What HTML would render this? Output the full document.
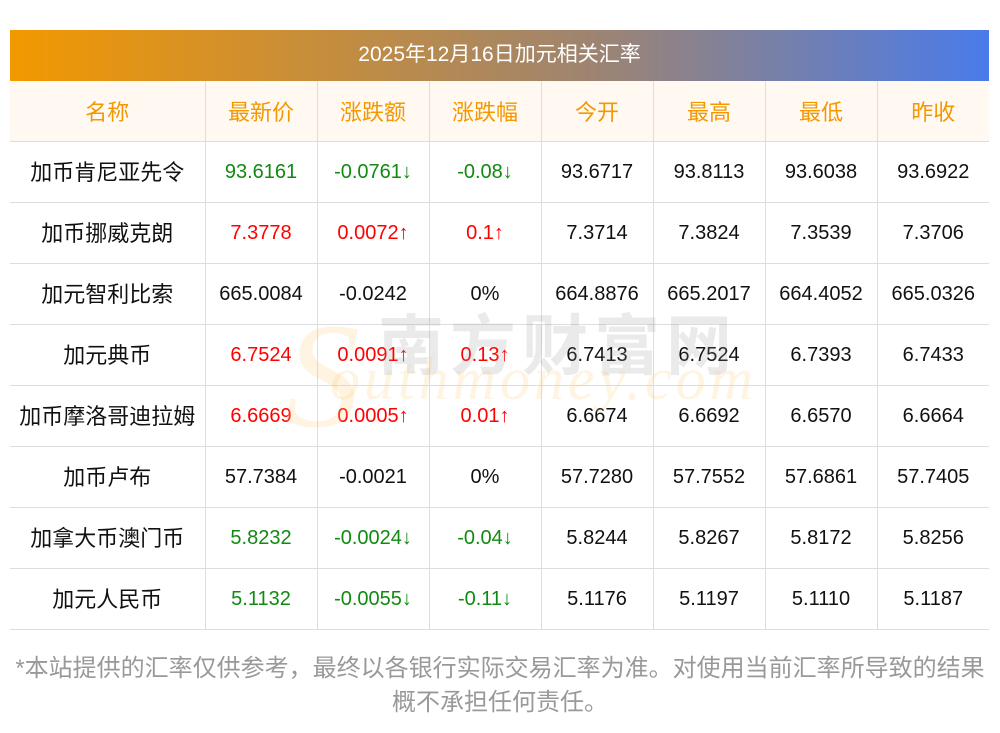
<!DOCTYPE html>
<html><head><meta charset="utf-8"><style>
body{margin:0;width:1000px;height:733px;background:#fff;position:relative;overflow:hidden;font-family:"Liberation Sans","Noto Sans CJK SC",sans-serif}
.bar{position:absolute;left:10px;top:30px;width:979px;height:51px;background:linear-gradient(90deg,#f39800,#9d8472 60%,#4a7bea);color:#fff;font-size:21px;line-height:49px;text-align:center}
table{position:absolute;left:10px;top:81px;border-collapse:collapse;width:979px;table-layout:fixed}
td{border:1px solid #dcdde3;text-align:center;font-size:20px;height:60px;padding:0;color:#111;line-height:20px}
tr:first-child td{background:#fff9f2;color:#f39800;border-top:none;font-size:22px}
td:first-child{border-left:none;font-size:22px}td:last-child{border-right:none}
td span{position:relative;top:1px}
tr:first-child td span{top:2px}
.g{color:#118a11}.r{color:#f00}
.wm1{position:absolute;left:378px;top:293px;font-size:66px;color:rgba(150,150,150,.2);letter-spacing:6px;font-family:"Noto Sans CJK SC",sans-serif;font-weight:bold}
.wm2{position:absolute;left:330px;top:345px;font-size:60px;color:rgba(255,200,120,.22);font-style:italic;font-family:"Liberation Serif",serif;letter-spacing:4px}
.s{position:absolute;left:285px;top:290px;font-size:150px;color:rgba(255,200,120,.22);font-style:italic;font-family:"Liberation Serif",serif}
.foot{position:absolute;left:0;top:652px;width:1000px;text-align:center;color:#999;font-size:24px;line-height:34px;white-space:nowrap}
</style></head><body>
<div class="bar">2025年12月16日加元相关汇率</div>
<table>
<colgroup><col style="width:195px"><col style="width:112px"><col style="width:112px"><col style="width:112px"><col style="width:112px"><col style="width:112px"><col style="width:112px"><col style="width:112px"></colgroup>
<tr><td><span>名称</span></td><td><span>最新价</span></td><td><span>涨跌额</span></td><td><span>涨跌幅</span></td><td><span>今开</span></td><td><span>最高</span></td><td><span>最低</span></td><td><span>昨收</span></td></tr>
<tr><td><span>加币肯尼亚先令</span></td><td class="g">93.6161</td><td class="g">-0.0761↓</td><td class="g">-0.08↓</td><td>93.6717</td><td>93.8113</td><td>93.6038</td><td>93.6922</td></tr>
<tr><td><span>加币挪威克朗</span></td><td class="r">7.3778</td><td class="r">0.0072↑</td><td class="r">0.1↑</td><td>7.3714</td><td>7.3824</td><td>7.3539</td><td>7.3706</td></tr>
<tr><td><span>加元智利比索</span></td><td>665.0084</td><td>-0.0242</td><td>0%</td><td>664.8876</td><td>665.2017</td><td>664.4052</td><td>665.0326</td></tr>
<tr><td><span>加元典币</span></td><td class="r">6.7524</td><td class="r">0.0091↑</td><td class="r">0.13↑</td><td>6.7413</td><td>6.7524</td><td>6.7393</td><td>6.7433</td></tr>
<tr><td><span>加币摩洛哥迪拉姆</span></td><td class="r">6.6669</td><td class="r">0.0005↑</td><td class="r">0.01↑</td><td>6.6674</td><td>6.6692</td><td>6.6570</td><td>6.6664</td></tr>
<tr><td><span>加币卢布</span></td><td>57.7384</td><td>-0.0021</td><td>0%</td><td>57.7280</td><td>57.7552</td><td>57.6861</td><td>57.7405</td></tr>
<tr><td><span>加拿大币澳门币</span></td><td class="g">5.8232</td><td class="g">-0.0024↓</td><td class="g">-0.04↓</td><td>5.8244</td><td>5.8267</td><td>5.8172</td><td>5.8256</td></tr>
<tr><td><span>加元人民币</span></td><td class="g">5.1132</td><td class="g">-0.0055↓</td><td class="g">-0.11↓</td><td>5.1176</td><td>5.1197</td><td>5.1110</td><td>5.1187</td></tr>
</table>
<div class="s">S</div>
<div class="wm1">南方财富网</div>
<div class="wm2">outhmoney.com</div>
<div class="foot">*本站提供的汇率仅供参考，最终以各银行实际交易汇率为准。对使用当前汇率所导致的结果<br>概不承担任何责任。</div>
</body></html>
